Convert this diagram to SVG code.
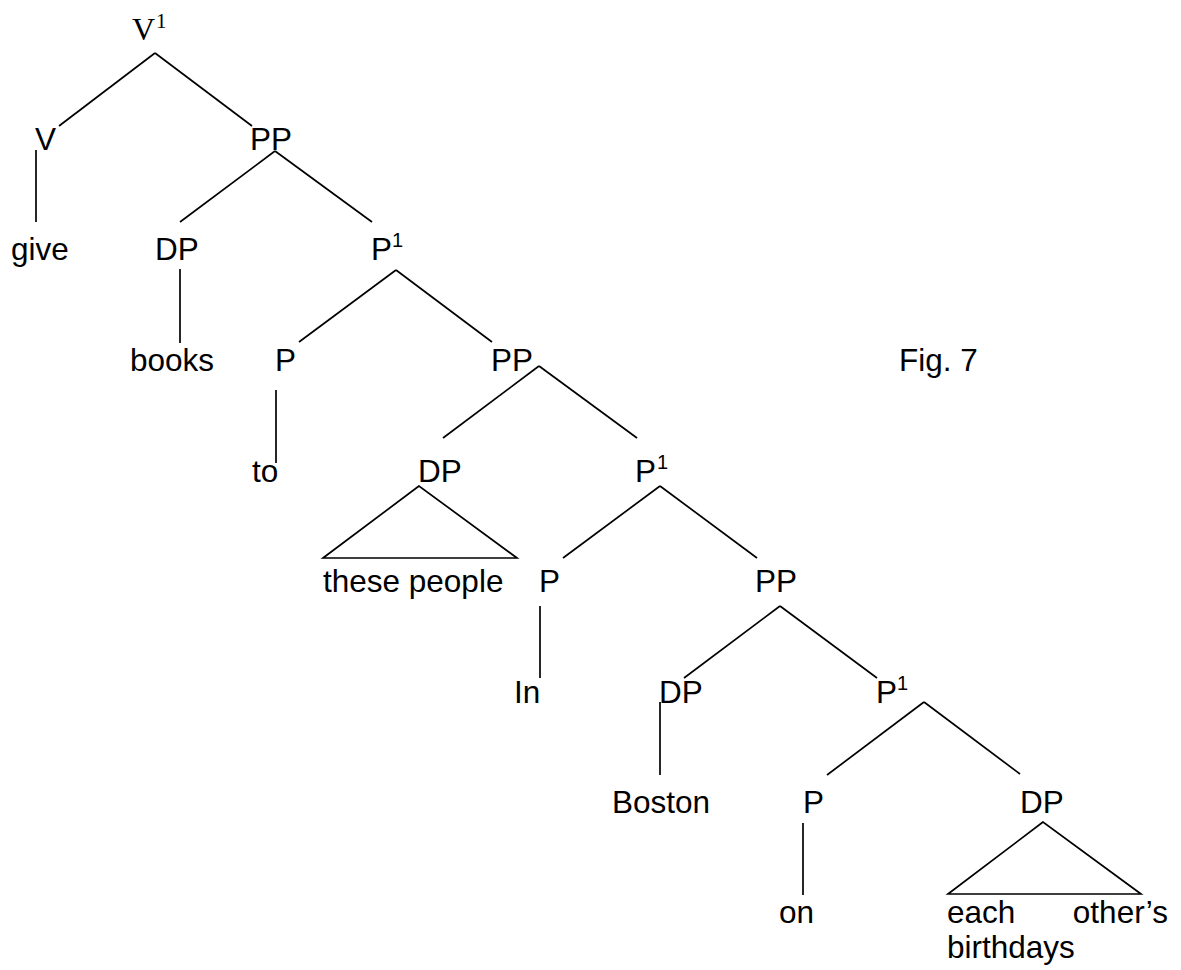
<svg xmlns="http://www.w3.org/2000/svg" width="1181" height="970" viewBox="0 0 1181 970">
<style>
  .t { font-family: "Liberation Sans", Arial, sans-serif; font-size: 31.5px; fill: #000; }
  .sup { font-family: "Liberation Sans", Arial, sans-serif; font-size: 20px; fill: #000; }
  .serif { font-family: "Liberation Serif", "Times New Roman", serif; font-size: 32px; fill: #000; }
  .serifsup { font-family: "Liberation Serif", "Times New Roman", serif; font-size: 21px; fill: #000; }
  .e { stroke: #000; stroke-width: 1.7; fill: none; stroke-linecap: butt; }
</style>
<rect width="1181" height="970" fill="#fff"/>
<g id="connectors">
  <line class="e" x1="155" y1="53" x2="59" y2="126"/>
  <line class="e" x1="155" y1="53" x2="252" y2="126"/>
  <line class="e" x1="36" y1="150" x2="36" y2="222"/>
  <line class="e" x1="275" y1="151" x2="180" y2="222"/>
  <line class="e" x1="275" y1="151" x2="372" y2="222"/>
  <line class="e" x1="180" y1="269" x2="180" y2="343"/>
  <line class="e" x1="396" y1="270" x2="299" y2="342"/>
  <line class="e" x1="396" y1="270" x2="492" y2="342"/>
  <line class="e" x1="276" y1="390" x2="276" y2="463"/>
  <line class="e" x1="539" y1="366" x2="443" y2="438"/>
  <line class="e" x1="539" y1="366" x2="637" y2="438"/>
  <path class="e" d="M419 486 L323 558 L517 558 Z"/>
  <line class="e" x1="660" y1="486" x2="563" y2="558"/>
  <line class="e" x1="660" y1="486" x2="757" y2="558"/>
  <line class="e" x1="540" y1="606" x2="540" y2="678"/>
  <line class="e" x1="780" y1="606" x2="684" y2="678"/>
  <line class="e" x1="780" y1="606" x2="877" y2="678"/>
  <line class="e" x1="660" y1="702" x2="660" y2="775"/>
  <line class="e" x1="924" y1="702" x2="827" y2="775"/>
  <line class="e" x1="924" y1="702" x2="1020" y2="774"/>
  <line class="e" x1="803" y1="823" x2="803" y2="895"/>
  <path class="e" d="M1043 822 L948 894 L1141 894 Z"/>
</g>
<g id="n-V1"><text class="serif" x="132" y="40">V</text><text class="serifsup" x="156" y="28">1</text></g>
<g id="n-V"><text class="t" x="35" y="150">V</text></g>
<g id="n-PP1"><text class="t" x="250" y="150">PP</text></g>
<g id="n-give"><text class="t" x="11" y="260">give</text></g>
<g id="n-DP1"><text class="t" x="155" y="260">DP</text></g>
<g id="n-P1a"><text class="t" x="371" y="260">P</text><text class="sup" x="392" y="247">1</text></g>
<g id="n-books"><text class="t" x="130" y="371">books</text></g>
<g id="n-P-a"><text class="t" x="275" y="371">P</text></g>
<g id="n-PP2"><text class="t" x="491" y="371">PP</text></g>
<g id="n-fig"><text class="t" x="899" y="371">Fig. 7</text></g>
<g id="n-to"><text class="t" x="252" y="482">to</text></g>
<g id="n-DP2"><text class="t" x="418" y="482">DP</text></g>
<g id="n-P1b"><text class="t" x="635" y="482">P</text><text class="sup" x="657" y="469">1</text></g>
<g id="n-these"><text class="t" x="323" y="592">these people</text></g>
<g id="n-P-b"><text class="t" x="539" y="592">P</text></g>
<g id="n-PP3"><text class="t" x="755" y="592">PP</text></g>
<g id="n-In"><text class="t" x="514" y="703">In</text></g>
<g id="n-DP3"><text class="t" x="659" y="703">DP</text></g>
<g id="n-P1c"><text class="t" x="876" y="703">P</text><text class="sup" x="897" y="690">1</text></g>
<g id="n-Boston"><text class="t" x="612" y="813">Boston</text></g>
<g id="n-P-c"><text class="t" x="803" y="813">P</text></g>
<g id="n-DP4"><text class="t" x="1020" y="813">DP</text></g>
<g id="n-on"><text class="t" x="779" y="923">on</text></g>
<g id="n-each"><text class="t"><tspan x="947" y="923">each</tspan><tspan x="1168" y="923" text-anchor="end">other’s</tspan><tspan x="947" y="958">birthdays</tspan></text></g>
</svg>
